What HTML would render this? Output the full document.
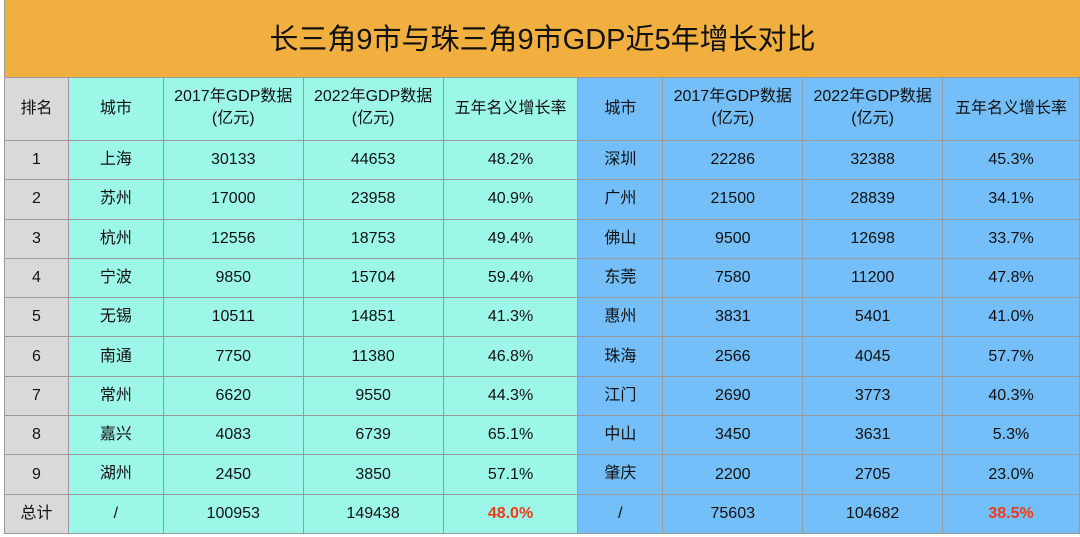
<!DOCTYPE html>
<html><head><meta charset="utf-8"><style>
body{margin:0;width:1080px;height:537px;background:#fff;overflow:hidden;font-family:"Liberation Sans","Noto Sans CJK SC",sans-serif;}
#title{position:absolute;left:4px;top:0;width:1076px;height:77px;background:#F0AF3E;border-left:1px solid #999;box-sizing:border-box;font-size:29px;text-align:center;line-height:80px;color:#111;}
table{position:absolute;left:4px;top:77px;border-collapse:collapse;table-layout:fixed;}
td{border:1px solid #9a9a9a;text-align:center;font-size:16px;line-height:20px;color:#111;height:38.3px;padding:0;vertical-align:middle;}
td span{display:inline-block;line-height:20px;vertical-align:middle}
tr.h td{height:63px;line-height:22px;vertical-align:top;padding-top:8px;box-sizing:border-box}
tr.h td.m{vertical-align:middle;padding-top:0}
.g{background:#D9D9D9}.t{background:#9DF7E9}.b{background:#74BEF9}
.r{color:#F03A17;font-weight:bold}
</style></head><body>
<div id="title">长三角9市与珠三角9市GDP近5年增长对比</div>
<table>
<colgroup><col style="width:64px"><col style="width:95px"><col style="width:140px"><col style="width:140px"><col style="width:135px"><col style="width:85px"><col style="width:140px"><col style="width:140px"><col style="width:137px"></colgroup>
<tr class="h">
<td class="g m">排名</td>
<td class="t m">城市</td>
<td class="t">2017年GDP数据<br>(亿元)</td>
<td class="t">2022年GDP数据<br>(亿元)</td>
<td class="t m">五年名义增长率</td>
<td class="b m">城市</td>
<td class="b">2017年GDP数据<br>(亿元)</td>
<td class="b">2022年GDP数据<br>(亿元)</td>
<td class="b m">五年名义增长率</td>
</tr>
<tr><td class="g">1</td><td class="t"><span>上海</span></td><td class="t">30133</td><td class="t">44653</td><td class="t">48.2%</td><td class="b"><span>深圳</span></td><td class="b">22286</td><td class="b">32388</td><td class="b">45.3%</td></tr>
<tr><td class="g">2</td><td class="t"><span>苏州</span></td><td class="t">17000</td><td class="t">23958</td><td class="t">40.9%</td><td class="b"><span>广州</span></td><td class="b">21500</td><td class="b">28839</td><td class="b">34.1%</td></tr>
<tr><td class="g">3</td><td class="t"><span>杭州</span></td><td class="t">12556</td><td class="t">18753</td><td class="t">49.4%</td><td class="b"><span>佛山</span></td><td class="b">9500</td><td class="b">12698</td><td class="b">33.7%</td></tr>
<tr><td class="g">4</td><td class="t"><span>宁波</span></td><td class="t">9850</td><td class="t">15704</td><td class="t">59.4%</td><td class="b"><span>东莞</span></td><td class="b">7580</td><td class="b">11200</td><td class="b">47.8%</td></tr>
<tr><td class="g">5</td><td class="t"><span>无锡</span></td><td class="t">10511</td><td class="t">14851</td><td class="t">41.3%</td><td class="b"><span>惠州</span></td><td class="b">3831</td><td class="b">5401</td><td class="b">41.0%</td></tr>
<tr><td class="g">6</td><td class="t"><span>南通</span></td><td class="t">7750</td><td class="t">11380</td><td class="t">46.8%</td><td class="b"><span>珠海</span></td><td class="b">2566</td><td class="b">4045</td><td class="b">57.7%</td></tr>
<tr><td class="g">7</td><td class="t"><span>常州</span></td><td class="t">6620</td><td class="t">9550</td><td class="t">44.3%</td><td class="b"><span>江门</span></td><td class="b">2690</td><td class="b">3773</td><td class="b">40.3%</td></tr>
<tr><td class="g">8</td><td class="t"><span>嘉兴</span></td><td class="t">4083</td><td class="t">6739</td><td class="t">65.1%</td><td class="b"><span>中山</span></td><td class="b">3450</td><td class="b">3631</td><td class="b">5.3%</td></tr>
<tr><td class="g">9</td><td class="t"><span>湖州</span></td><td class="t">2450</td><td class="t">3850</td><td class="t">57.1%</td><td class="b"><span>肇庆</span></td><td class="b">2200</td><td class="b">2705</td><td class="b">23.0%</td></tr>
<tr><td class="g"><span>总计</span></td><td class="t">/</td><td class="t">100953</td><td class="t">149438</td><td class="t r">48.0%</td><td class="b">/</td><td class="b">75603</td><td class="b">104682</td><td class="b r">38.5%</td></tr>
</table>
</body></html>
